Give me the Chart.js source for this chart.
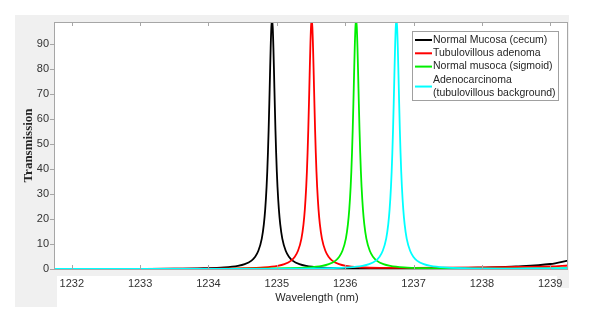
<!DOCTYPE html>
<html lang="en">
<head>
  <meta charset="UTF-8">
  <title>Transmission vs wavelength</title>
  <style>
    body { margin: 0; background: #fff; }
    #wrap { width: 589px; height: 320px; }
  </style>
</head>
<body>
<div id="wrap"><canvas id="chart" width="589" height="320"></canvas></div>
<script src="https://cdn.jsdelivr.net/npm/chart.js"></script>
<script>
// series names (legend), "\n" = second legend line
const seriesNames = [
  "Normal Mucosa (cecum)",
  "Tubulovillous adenoma",
  "Normal musoca (sigmoid)",
  "Adenocarcinoma\n(tubulovillous background)"
];
const seriesColors = ["#000000", "#ff0000", "#00ee00", "#00ffff"];

const xTicks = [1232, 1233, 1234, 1235, 1236, 1237, 1238, 1239];
const yTicks = [0, 10, 20, 30, 40, 50, 60, 70, 80, 90];

// Normal Mucosa (cecum)
const blackX = [1231.74, 1232.5, 1233.0, 1233.5, 1233.93, 1234.23, 1234.43, 1234.53, 1234.63, 1234.68,
  1234.73, 1234.78, 1234.81, 1234.83, 1234.85, 1234.86, 1234.87, 1234.88, 1234.89, 1234.90,
  1234.91, 1234.92, 1234.93, 1234.94, 1234.95, 1234.96, 1234.97, 1234.98, 1234.99, 1235.00,
  1235.01, 1235.03, 1235.05, 1235.08, 1235.13, 1235.18, 1235.23, 1235.33, 1235.43, 1235.63,
  1235.93, 1236.43, 1236.93, 1237.5, 1238.0, 1238.5, 1239.0, 1239.26];
const blackY = [0.05, 0.06, 0.08, 0.12, 0.31, 0.64, 1.24, 1.92, 3.37, 4.8,
  7.3, 12.2, 17.9, 23.9, 32.9, 39.0, 46.6, 55.6, 66.2, 77.7,
  88.7, 96.9, 100, 96.9, 88.7, 77.7, 66.2, 55.6, 46.6, 39.0,
  32.9, 23.9, 17.9, 12.2, 7.3, 4.8, 3.37, 1.92, 1.24, 0.64,
  0.31, 0.14, 0.1, 0.2, 0.55, 1.0, 2.0, 3.4];

// Tubulovillous adenoma
const redX = [1231.74, 1233.0, 1234.0, 1234.51, 1234.81, 1235.01, 1235.11, 1235.21, 1235.26, 1235.31,
  1235.36, 1235.39, 1235.41, 1235.43, 1235.44, 1235.45, 1235.46, 1235.47, 1235.48, 1235.49,
  1235.50, 1235.51, 1235.52, 1235.53, 1235.54, 1235.55, 1235.56, 1235.57, 1235.58, 1235.59,
  1235.61, 1235.63, 1235.66, 1235.71, 1235.76, 1235.81, 1235.91, 1236.01, 1236.21, 1236.51,
  1237.0, 1237.5, 1238.0, 1238.5, 1239.0, 1239.26];
const redY = [0.04, 0.05, 0.13, 0.31, 0.64, 1.24, 1.92, 3.37, 4.8, 7.3,
  12.2, 17.9, 23.9, 32.9, 39.0, 46.6, 55.6, 66.2, 77.7, 88.7,
  96.9, 100, 96.9, 88.7, 77.7, 66.2, 55.6, 46.6, 39.0, 32.9,
  23.9, 17.9, 12.2, 7.3, 4.8, 3.37, 1.92, 1.24, 0.7, 0.45,
  0.45, 0.5, 0.6, 0.8, 1.0, 1.4];

// Normal musoca (sigmoid)
const greenX = [1231.74, 1233.0, 1234.0, 1234.66, 1235.16, 1235.46, 1235.66, 1235.76, 1235.86, 1235.91,
  1235.96, 1236.01, 1236.04, 1236.06, 1236.08, 1236.09, 1236.10, 1236.11, 1236.12, 1236.13,
  1236.14, 1236.15, 1236.16, 1236.17, 1236.18, 1236.19, 1236.20, 1236.21, 1236.22, 1236.23,
  1236.24, 1236.26, 1236.28, 1236.31, 1236.36, 1236.41, 1236.46, 1236.56, 1236.66, 1236.86,
  1237.16, 1237.66, 1238.2, 1238.8, 1239.26];
const greenY = [0.03, 0.04, 0.07, 0.14, 0.31, 0.64, 1.24, 1.92, 3.37, 4.8,
  7.3, 12.2, 17.9, 23.9, 32.9, 39.0, 46.6, 55.6, 66.2, 77.7,
  88.7, 96.9, 100, 96.9, 88.7, 77.7, 66.2, 55.6, 46.6, 39.0,
  32.9, 23.9, 17.9, 12.2, 7.3, 4.8, 3.37, 1.92, 1.24, 0.64,
  0.31, 0.15, 0.12, 0.18, 0.3];

// Adenocarcinoma (tubulovillous background)
const cyanX = [1231.74, 1233.0, 1234.0, 1234.75, 1235.25, 1235.75, 1236.05, 1236.25, 1236.35, 1236.45,
  1236.50, 1236.55, 1236.60, 1236.63, 1236.65, 1236.67, 1236.68, 1236.69, 1236.70, 1236.71,
  1236.72, 1236.73, 1236.74, 1236.75, 1236.76, 1236.77, 1236.78, 1236.79, 1236.80, 1236.81,
  1236.82, 1236.83, 1236.85, 1236.87, 1236.90, 1236.95, 1237.00, 1237.05, 1237.15, 1237.25,
  1237.45, 1237.75, 1238.25, 1238.8, 1239.26];
const cyanY = [0.03, 0.03, 0.05, 0.08, 0.14, 0.31, 0.64, 1.24, 1.92, 3.37,
  4.8, 7.3, 12.2, 17.9, 23.9, 32.9, 39.0, 46.6, 55.6, 66.2,
  77.7, 88.7, 96.9, 100, 96.9, 88.7, 77.7, 66.2, 55.6, 46.6,
  39.0, 32.9, 23.9, 17.9, 12.2, 7.3, 4.8, 3.37, 1.92, 1.24,
  0.64, 0.31, 0.18, 0.2, 0.3];

const seriesX = [blackX, redX, greenX, cyanX];
const seriesY = [blackY, redY, greenY, cyanY];

const FONT = "'Liberation Sans', Arial, sans-serif";

function toPoints(xs, ys) {
  return xs.map((x, i) => ({ x: x, y: ys[i] }));
}

// grey figure background + white axes box
const background = {
  id: "background",
  beforeDraw(chart) {
    const ctx = chart.ctx;
    const a = chart.chartArea;
    ctx.save();
    ctx.fillStyle = "#ffffff";
    ctx.fillRect(0, 0, chart.width, chart.height);
    ctx.fillStyle = "#f0f0f0";
    ctx.fillRect(15, 15, 554, 261);
    ctx.fillRect(15, 276, 42, 31);
    ctx.fillRect(557, 276, 12, 12);
    ctx.fillStyle = "#ffffff";
    ctx.fillRect(a.left, a.top, a.right - a.left, a.bottom - a.top);
    ctx.restore();
  }
};

// box, inward x ticks, outward y ticks, axis titles, legend
const decorations = {
  id: "decorations",
  afterDraw(chart) {
    const ctx = chart.ctx;
    const a = chart.chartArea;
    const xs = chart.scales.x;
    const ys = chart.scales.y;
    ctx.save();
    ctx.strokeStyle = "#a6a6a6";
    ctx.lineWidth = 1;
    ctx.strokeRect(a.left + 0.5, a.top + 0.5, a.right - a.left - 1, a.bottom - a.top);

    ctx.beginPath();
    xTicks.forEach(v => {
      const px = Math.round(xs.getPixelForValue(v)) + 0.5;
      ctx.moveTo(px, a.bottom);
      ctx.lineTo(px, a.bottom - 4);
      ctx.moveTo(px, a.top);
      ctx.lineTo(px, a.top + 4);
    });
    yTicks.forEach(v => {
      const py = Math.round(ys.getPixelForValue(v)) + 0.5;
      ctx.moveTo(a.left, py);
      ctx.lineTo(a.left - 4, py);
    });
    ctx.stroke();

    // axis titles
    ctx.fillStyle = "#262626";
    ctx.font = "11px " + FONT;
    ctx.textAlign = "center";
    ctx.textBaseline = "middle";
    ctx.fillText("Wavelength (nm)", 317, 298);

    ctx.save();
    ctx.translate(28.5, (a.top + a.bottom) / 2);
    ctx.rotate(-Math.PI / 2);
    ctx.font = "bold 13px 'Liberation Serif', 'Times New Roman', serif";
    ctx.fillStyle = "#262626";
    ctx.fillText("Transmission", 0, 0);
    ctx.restore();

    // legend
    const bx = 412, by = 31, bw = 146, bh = 69;
    ctx.fillStyle = "#ffffff";
    ctx.fillRect(bx, by, bw, bh);
    ctx.strokeStyle = "#a0a0a0";
    ctx.strokeRect(bx + 0.5, by + 0.5, bw, bh);
    ctx.font = "10.5px " + FONT;
    ctx.textAlign = "left";
    ctx.textBaseline = "middle";
    const lineH = 13.3;
    let y = by + 9;
    chart.data.datasets.forEach(ds => {
      const lines = ds.label.split("\n");
      const mid = y + (lines.length - 1) * lineH / 2;
      ctx.strokeStyle = ds.borderColor;
      ctx.lineWidth = 2;
      ctx.beginPath();
      ctx.moveTo(bx + 3, mid);
      ctx.lineTo(bx + 20, mid);
      ctx.stroke();
      ctx.fillStyle = "#262626";
      lines.forEach((t, k) => ctx.fillText(t, bx + 21, y + k * lineH));
      y += lines.length * lineH;
    });
    ctx.restore();
  }
};

const datasets = seriesNames.map((name, i) => ({
  label: name,
  data: toPoints(seriesX[i], seriesY[i]),
  borderColor: seriesColors[i],
  backgroundColor: seriesColors[i],
  borderWidth: 1.8,
  pointRadius: 0,
  fill: false,
  cubicInterpolationMode: "monotone",
  order: 4 - i
}));

new Chart(document.getElementById("chart"), {
  type: "line",
  data: { datasets: datasets },
  options: {
    responsive: false,
    animation: false,
    devicePixelRatio: 1,
    layout: { padding: { left: 0, right: 21, top: 22, bottom: 0 } },
    plugins: {
      legend: { display: false },
      tooltip: { enabled: false }
    },
    scales: {
      x: {
        type: "linear",
        min: 1231.74,
        max: 1239.26,
        grid: { display: false, drawTicks: false },
        border: { display: false },
        afterBuildTicks: s => { s.ticks = xTicks.map(v => ({ value: v })); },
        afterFit: s => { s.height = 51; },
        ticks: {
          padding: 8,
          maxRotation: 0,
          autoSkip: false,
          color: "#333333",
          font: { family: FONT, size: 11 },
          callback: v => String(v)
        }
      },
      y: {
        min: 0,
        max: 99,
        grid: { display: false, drawTicks: false },
        border: { display: false },
        afterBuildTicks: s => { s.ticks = yTicks.map(v => ({ value: v })); },
        afterFit: s => { s.width = 54; },
        ticks: {
          padding: 5,
          color: "#333333",
          font: { family: FONT, size: 11 },
          callback: v => String(v)
        }
      }
    }
  },
  plugins: [background, decorations]
});
</script>
</body>
</html>
